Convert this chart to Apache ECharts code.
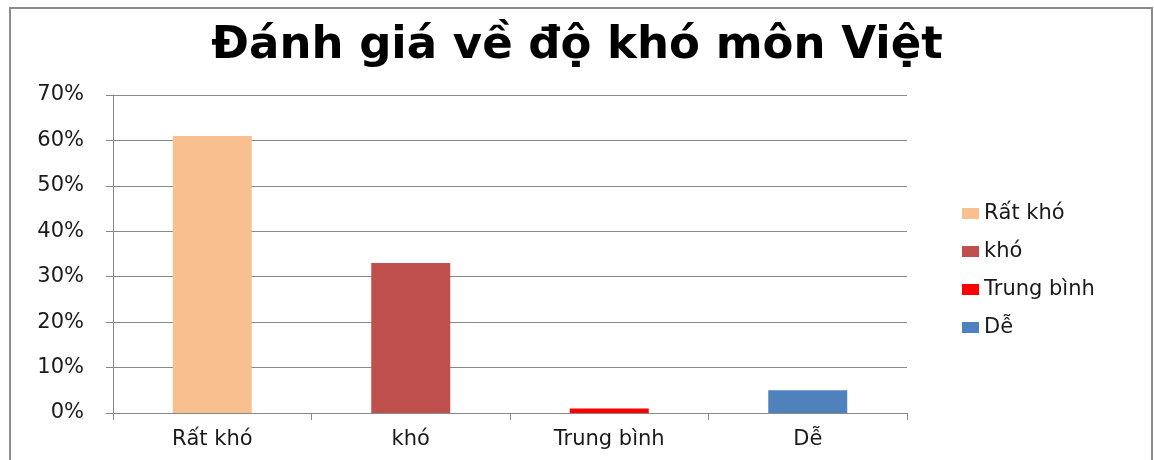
<!DOCTYPE html>
<html>
<head>
<meta charset="utf-8">
<title>Đánh giá về độ khó môn Việt</title>
<script src="https://cdn.jsdelivr.net/npm/echarts@6/dist/echarts.min.js"></script>
<style>
	html, body { margin: 0; padding: 0; background: #fff; }
	#wrap { position: relative; width: 1154px; height: 460px; overflow: hidden; }
	#chart { width: 1154px; height: 460px; }
	#frame {
		position: absolute; left: 9px; top: 7px; width: 1140px; height: 480px;
		border: 2px solid #8c8c8c; pointer-events: none;
	}
</style>
</head>
<body>
<div id="wrap">
	<div id="chart"></div>
	<div id="frame"></div>
</div>
<script>
// dữ liệu (%)
var categories = ["Rất khó", "khó", "Trung bình", "Dễ"];
var values = [61, 33, 1, 5];
var colors = ["#f9c08f", "#c0504d", "#ff0000", "#4f81bd"];
var yTicks = [0, 10, 20, 30, 40, 50, 60, 70];

var labelFont = "'DejaVu Sans', Verdana, sans-serif";

// mỗi mục là một series riêng để có chú thích như Excel
var series = [];
for (var i = 0; i < categories.length; i++) {
	var d = [];
	for (var j = 0; j < categories.length; j++) {
		d.push(i == j ? values[i] : null);
	}
	series.push({
		name: categories[i],
		type: 'bar',
		stack: 'all',
		barWidth: 79,
		itemStyle: { color: colors[i] },
		data: d
	});
}

var myChart = echarts.init(document.getElementById('chart'));
myChart.setOption({
	animation: false,
	title: {
		text: "Đánh giá về độ khó môn Việt",
		left: 'center',
		top: 19,
		textStyle: {
			fontFamily: "'DejaVu Sans', Verdana, sans-serif",
			fontWeight: 'bold',
			fontSize: 45,
			color: '#000'
		}
	},
	legend: {
		orient: 'vertical',
		left: 957,
		top: 198,
		itemWidth: 17,
		itemHeight: 11,
		itemGap: 17,
		icon: 'rect',
		data: categories,
		textStyle: { fontFamily: labelFont, fontSize: 21, color: '#1a1a1a' }
	},
	grid: { left: 113, right: 247, top: 95, bottom: 47 },
	xAxis: {
		type: 'category',
		data: categories,
		axisLine: { lineStyle: { color: '#888', width: 1 } },
		axisTick: { show: true, length: 7, lineStyle: { color: '#888' } },
		axisLabel: { fontFamily: labelFont, fontSize: 21, color: '#1a1a1a', margin: 16 }
	},
	yAxis: {
		type: 'value',
		min: yTicks[0],
		max: yTicks[yTicks.length - 1],
		interval: 10,
		axisLine: { show: true, lineStyle: { color: '#888', width: 1 } },
		axisTick: { show: true, length: 7, lineStyle: { color: '#888' } },
		splitLine: { lineStyle: { color: '#888', width: 1 } },
		axisLabel: {
			fontFamily: labelFont, fontSize: 21, color: '#1a1a1a', margin: 29,
			formatter: '{value}%'
		}
	},
	series: series
});
</script>
</body>
</html>
